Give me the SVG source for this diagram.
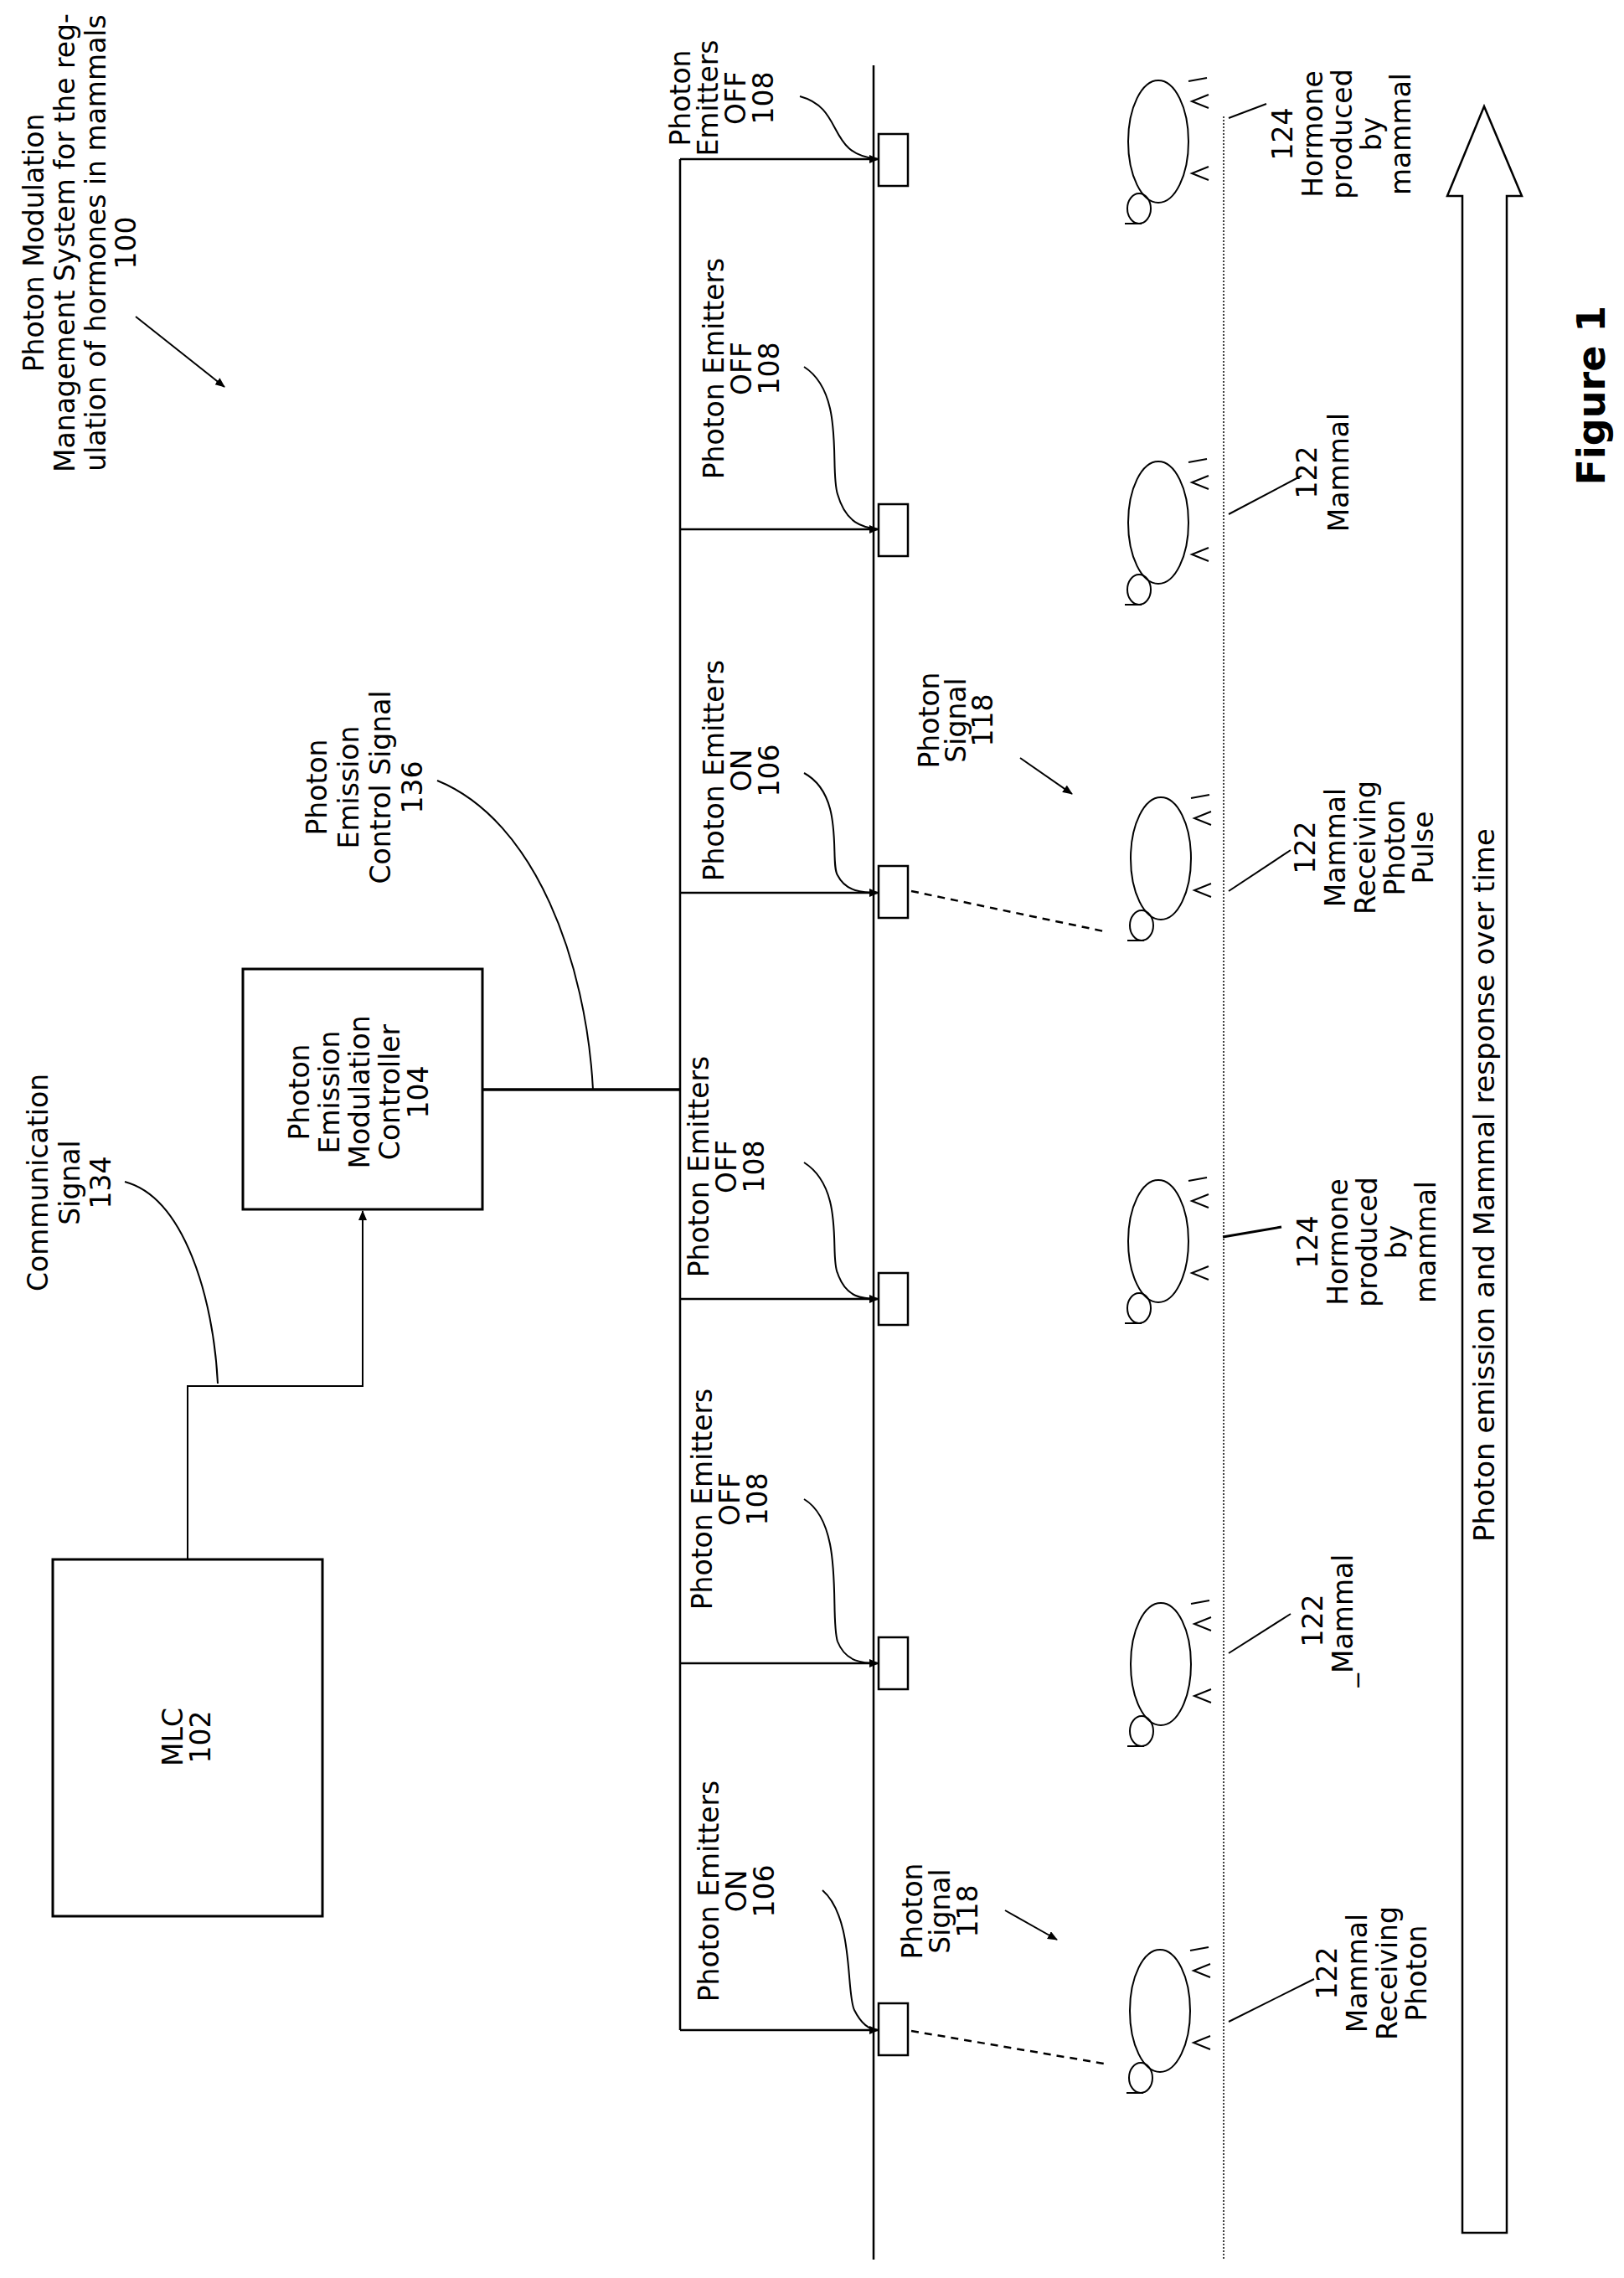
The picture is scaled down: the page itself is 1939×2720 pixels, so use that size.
<svg xmlns="http://www.w3.org/2000/svg" width="1939" height="2720" viewBox="0 0 1939 2720">
<style>
text{font-family:"DejaVu Sans",Verdana,sans-serif;font-size:33px;fill:#000;text-anchor:middle}
.ln{stroke:#000;stroke-width:2;fill:none}
.bx{stroke:#000;stroke-width:3;fill:#fff}
.th{stroke:#000;stroke-width:3.5;fill:none}
.ds{stroke:#000;stroke-width:2.5;stroke-dasharray:9,7;fill:none}
.dot{stroke:#000;stroke-width:1.5;stroke-dasharray:2,2;fill:none}
</style>
<defs>
<marker id="ah" markerWidth="12" markerHeight="10" refX="11" refY="5" orient="auto" markerUnits="userSpaceOnUse"><path d="M0,0 L12,5 L0,10 Z" fill="#000"/></marker>
<g id="mammal">
<ellipse cx="0" cy="0" rx="36" ry="73" class="ln"/>
<ellipse cx="-23" cy="80" rx="14" ry="18" class="ln"/>
<line x1="-40" y1="98" x2="-20" y2="98" class="ln"/>
<line x1="36" y1="-72" x2="58" y2="-76" class="ln"/>
<path d="M60,-56 L40,-48 L60,-40" class="ln"/>
<path d="M60,30 L40,38 L60,46" class="ln"/>
</g>
</defs>

<g id="title">
<text transform="translate(52,290) rotate(-90)"><tspan x="0" dy="0">Photon Modulation</tspan><tspan x="0" dy="37">Management System for the reg-</tspan><tspan x="0" dy="37">ulation of hormones in mammals</tspan><tspan x="0" dy="36">100</tspan></text>
</g>
<g id="figure-label"><text transform="translate(1916,472) rotate(-90)" style="font-weight:bold;font-size:46px">Figure 1</text></g>

<g id="mlc"><rect x="63" y="1862" width="322" height="426" class="bx"/>
<text transform="translate(218,2074) rotate(-90)"><tspan x="0" dy="0">MLC</tspan><tspan x="0" dy="33">102</tspan></text></g>

<g id="controller"><rect x="290" y="1157" width="286" height="287" class="bx"/>
<text transform="translate(369,1304) rotate(-90)"><tspan x="0" dy="0">Photon</tspan><tspan x="0" dy="36">Emission</tspan><tspan x="0" dy="36">Modulation</tspan><tspan x="0" dy="36">Controller</tspan><tspan x="0" dy="34">104</tspan></text></g>

<g id="comm-label"><text transform="translate(57,1412) rotate(-90)"><tspan x="0" dy="0">Communication</tspan><tspan x="0" dy="38">Signal</tspan><tspan x="0" dy="37">134</tspan></text></g>
<g id="ctrl-label"><text transform="translate(390,940) rotate(-90)"><tspan x="0" dy="0">Photon</tspan><tspan x="0" dy="38">Emission</tspan><tspan x="0" dy="38">Control Signal</tspan><tspan x="0" dy="38">136</tspan></text></g>

<g id="emitter-labels">
<text transform="translate(824,117) rotate(-90)"><tspan x="0" dy="0">Photon</tspan><tspan x="0" dy="33">Emitters</tspan><tspan x="0" dy="33">OFF</tspan><tspan x="0" dy="33">108</tspan></text>
<text transform="translate(864,440) rotate(-90)"><tspan x="0" dy="0">Photon Emitters</tspan><tspan x="0" dy="33">OFF</tspan><tspan x="0" dy="33">108</tspan></text>
<text transform="translate(864,920) rotate(-90)"><tspan x="0" dy="0">Photon Emitters</tspan><tspan x="0" dy="33">ON</tspan><tspan x="0" dy="33">106</tspan></text>
<text transform="translate(846,1393) rotate(-90)"><tspan x="0" dy="0">Photon Emitters</tspan><tspan x="0" dy="33">OFF</tspan><tspan x="0" dy="33">108</tspan></text>
<text transform="translate(850,1790) rotate(-90)"><tspan x="0" dy="0">Photon Emitters</tspan><tspan x="0" dy="33">OFF</tspan><tspan x="0" dy="33">108</tspan></text>
<text transform="translate(858,2258) rotate(-90)"><tspan x="0" dy="0">Photon Emitters</tspan><tspan x="0" dy="33">ON</tspan><tspan x="0" dy="33">106</tspan></text>
</g>

<g id="signal-labels">
<text transform="translate(1121,860) rotate(-90)"><tspan x="0" dy="0">Photon</tspan><tspan x="0" dy="32">Signal</tspan><tspan x="0" dy="32">118</tspan></text>
<text transform="translate(1101,2282) rotate(-90)"><tspan x="0" dy="0">Photon</tspan><tspan x="0" dy="33">Signal</tspan><tspan x="0" dy="33">118</tspan></text>
</g>

<g id="emitters">
<rect x="1049" y="160" width="35" height="62" class="bx" style="stroke-width:2.5"/>
<rect x="1049" y="602" width="35" height="62" class="bx" style="stroke-width:2.5"/>
<rect x="1049" y="1034" width="35" height="62" class="bx" style="stroke-width:2.5"/>
<rect x="1049" y="1520" width="35" height="62" class="bx" style="stroke-width:2.5"/>
<rect x="1049" y="1955" width="35" height="62" class="bx" style="stroke-width:2.5"/>
<rect x="1049" y="2392" width="35" height="62" class="bx" style="stroke-width:2.5"/>
</g>

<g id="mammals">
<use href="#mammal" transform="translate(1383,169)"/>
<use href="#mammal" transform="translate(1383,624)"/>
<use href="#mammal" transform="translate(1386,1025)"/>
<use href="#mammal" transform="translate(1383,1482)"/>
<use href="#mammal" transform="translate(1386,1987)"/>
<use href="#mammal" transform="translate(1385,2401)"/>
</g>

<g id="mammal-labels">
<text transform="translate(1543,160) rotate(-90)"><tspan x="0" dy="0">124</tspan><tspan x="0" dy="36">Hormone</tspan><tspan x="0" dy="35">produced</tspan><tspan x="0" dy="35">by</tspan><tspan x="0" dy="35">mammal</tspan></text>
<text transform="translate(1572,564) rotate(-90)"><tspan x="0" dy="0">122</tspan><tspan x="0" dy="38">Mammal</tspan></text>
<text transform="translate(1570,1012) rotate(-90)"><tspan x="0" dy="0">122</tspan><tspan x="0" dy="36">Mammal</tspan><tspan x="0" dy="36">Receiving</tspan><tspan x="0" dy="35">Photon</tspan><tspan x="0" dy="34">Pulse</tspan></text>
<text transform="translate(1573,1483) rotate(-90)"><tspan x="0" dy="0">124</tspan><tspan x="0" dy="36">Hormone</tspan><tspan x="0" dy="35">produced</tspan><tspan x="0" dy="35">by</tspan><tspan x="0" dy="35">mammal</tspan></text>
<text transform="translate(1579,1935) rotate(-90)"><tspan x="0" dy="0">122</tspan><tspan x="0" dy="36">_Mammal</tspan></text>
<text transform="translate(1596,2356) rotate(-90)"><tspan x="0" dy="0">122</tspan><tspan x="0" dy="36">Mammal</tspan><tspan x="0" dy="36">Receiving</tspan><tspan x="0" dy="35">Photon</tspan></text>
</g>

<g id="time-arrow">
<path d="M1746,2666 L1746,234 L1728,234 L1772,127 L1817,234 L1799,234 L1799,2666 Z" class="ln" style="stroke-width:2.5"/>
<text transform="translate(1784,1415) rotate(-90)" style="font-size:34px">Photon emission and Mammal response over time</text>
</g>

<g id="connectors">
<line x1="1043" y1="78" x2="1043" y2="2698" class="ln" style="stroke-width:2.5"/>
<line x1="1461" y1="139" x2="1461" y2="2698" class="dot"/>
<line x1="812" y1="190" x2="812" y2="2424" class="ln" style="stroke-width:2.5"/>
<line x1="812" y1="190" x2="1049" y2="190" class="ln" style="stroke-width:2.5" marker-end="url(#ah)"/>
<line x1="812" y1="632" x2="1049" y2="632" class="ln" style="stroke-width:2.5" marker-end="url(#ah)"/>
<line x1="812" y1="1066" x2="1049" y2="1066" class="ln" style="stroke-width:2.5" marker-end="url(#ah)"/>
<line x1="812" y1="1551" x2="1049" y2="1551" class="ln" style="stroke-width:2.5" marker-end="url(#ah)"/>
<line x1="812" y1="1986" x2="1049" y2="1986" class="ln" style="stroke-width:2.5" marker-end="url(#ah)"/>
<line x1="812" y1="2424" x2="1049" y2="2424" class="ln" style="stroke-width:2.5" marker-end="url(#ah)"/>
<line x1="576" y1="1301" x2="812" y2="1301" class="th"/>
<path d="M224,1862 L224,1655 L433,1655 L433,1446" class="ln" marker-end="url(#ah)"/>
<path d="M149,1411 C220,1430 255,1550 260,1652" class="ln"/>
<path d="M522,932 C640,980 700,1150 708,1301" class="ln"/>
<path d="M955,115 C1010,130 985,185 1049,190" class="ln"/>
<path d="M960,438 C1010,470 990,560 1000,590 C1010,625 1030,630 1049,632" class="ln"/>
<path d="M960,923 C1010,950 990,1030 1000,1045 C1010,1065 1030,1066 1049,1066" class="ln"/>
<path d="M960,1388 C1010,1420 990,1500 1000,1520 C1010,1550 1030,1551 1049,1551" class="ln"/>
<path d="M960,1790 C1010,1820 990,1930 1000,1960 C1010,1985 1030,1986 1049,1986" class="ln"/>
<path d="M982,2257 C1020,2290 1010,2380 1020,2400 C1030,2420 1040,2424 1049,2424" class="ln"/>
<line x1="1088" y1="1064" x2="1318" y2="1112" class="ds"/>
<line x1="1088" y1="2425" x2="1318" y2="2464" class="ds"/>
<line x1="1218" y1="905" x2="1280" y2="948" class="ln" marker-end="url(#ah)"/>
<line x1="1200" y1="2281" x2="1262" y2="2316" class="ln" marker-end="url(#ah)"/>
<line x1="162" y1="378" x2="268" y2="462" class="ln" marker-end="url(#ah)"/>
<line x1="1467" y1="141" x2="1512" y2="124" class="ln"/>
<line x1="1467" y1="614" x2="1554" y2="568" class="ln"/>
<line x1="1467" y1="1064" x2="1541" y2="1015" class="ln"/>
<line x1="1460" y1="1477" x2="1530" y2="1465" class="ln" style="stroke-width:3"/>
<line x1="1467" y1="1974" x2="1541" y2="1927" class="ln"/>
<line x1="1467" y1="2414" x2="1569" y2="2363" class="ln"/>
</g>
</svg>
